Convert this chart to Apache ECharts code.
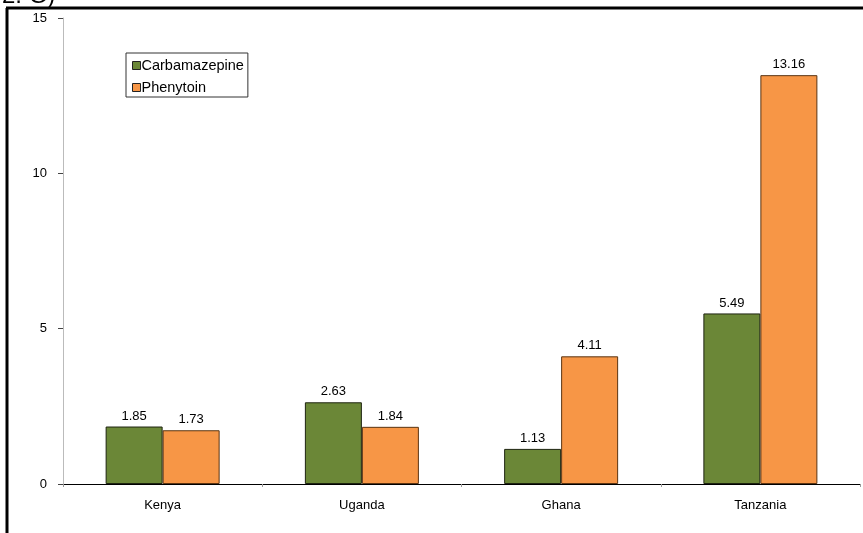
<!DOCTYPE html>
<html>
<head>
<meta charset="utf-8">
<script src="https://cdn.jsdelivr.net/npm/echarts@6/dist/echarts.min.js"></script>
<style>
  html, body { margin: 0; padding: 0; background: #fff; }
  #chart { width: 863px; height: 533px; }
</style>
</head>
<body>
<div id="chart"></div>
<script>
// Countries and the two drug values per country
const countries = ['Kenya', 'Uganda', 'Ghana', 'Tanzania'];
const carbamazepine = [1.85, 2.63, 1.13, 5.49];
const phenytoin = [1.73, 1.84, 4.11, 13.16];
const yTicks = [0, 5, 10, 15];

const chart = echarts.init(document.getElementById('chart'), null, { renderer: 'canvas' });

const labelStyle = {
  show: true,
  position: 'top',
  distance: 4,
  color: '#000',
  fontFamily: 'Liberation Sans, Arial, sans-serif',
  fontSize: 13,
  formatter: p => p.value.toFixed(2)
};

chart.setOption({
  animation: false,
  backgroundColor: '#fff',
  textStyle: { fontFamily: 'Liberation Sans, Arial, sans-serif' },
  graphic: [
    { type: 'text', left: 2, top: -16, style: { text: '2. G)', font: '24px Liberation Sans, Arial, sans-serif', fill: '#000' } },
    { type: 'line', shape: { x1: 7, y1: 8, x2: 7, y2: 533 }, style: { stroke: '#000', lineWidth: 3 } },
    { type: 'line', shape: { x1: 6, y1: 8, x2: 863, y2: 8 }, style: { stroke: '#000', lineWidth: 3 } }
  ],
  grid: { left: 63, right: 3, top: 18, bottom: 49, containLabel: false },
  legend: {
    orient: 'vertical',
    left: 126,
    top: 53,
    padding: [4, 4, 1, 6],
    itemGap: 5,
    itemWidth: 8,
    itemHeight: 8,
    borderColor: '#333',
    borderWidth: 1,
    textStyle: { fontSize: 14.5, color: '#000', padding: [0, 0, 0, -4], lineHeight: 17 },
    data: [
      { name: 'Carbamazepine', icon: 'rect', itemStyle: { borderColor: '#222', borderWidth: 1 } },
      { name: 'Phenytoin', icon: 'rect', itemStyle: { borderColor: '#222', borderWidth: 1 } }
    ]
  },
  xAxis: {
    type: 'category',
    data: countries,
    axisLine: { lineStyle: { color: '#000', width: 1 } },
    axisTick: { show: true, length: 3, lineStyle: { color: '#999' } },
    axisLabel: { color: '#000', fontSize: 13, margin: 15 },
    splitLine: { show: false }
  },
  yAxis: {
    type: 'value',
    min: yTicks[0],
    max: yTicks[yTicks.length - 1],
    interval: yTicks[1] - yTicks[0],
    axisLine: { show: true, lineStyle: { color: '#bbb', width: 1 } },
    axisTick: { show: true, length: 5, lineStyle: { color: '#444' } },
    axisLabel: { color: '#000', fontSize: 13, margin: 16 },
    splitLine: { show: false }
  },
  series: [
    {
      name: 'Carbamazepine',
      type: 'bar',
      data: carbamazepine,
      barWidth: 57,
      barGap: '0%',
      itemStyle: { color: '#6b8737', borderColor: '#1e2410', borderWidth: 1 },
      label: labelStyle
    },
    {
      name: 'Phenytoin',
      type: 'bar',
      data: phenytoin,
      barWidth: 57,
      barGap: '0%',
      itemStyle: { color: '#f79646', borderColor: '#5a3412', borderWidth: 1 },
      label: labelStyle
    }
  ]
});
</script>
</body>
</html>
